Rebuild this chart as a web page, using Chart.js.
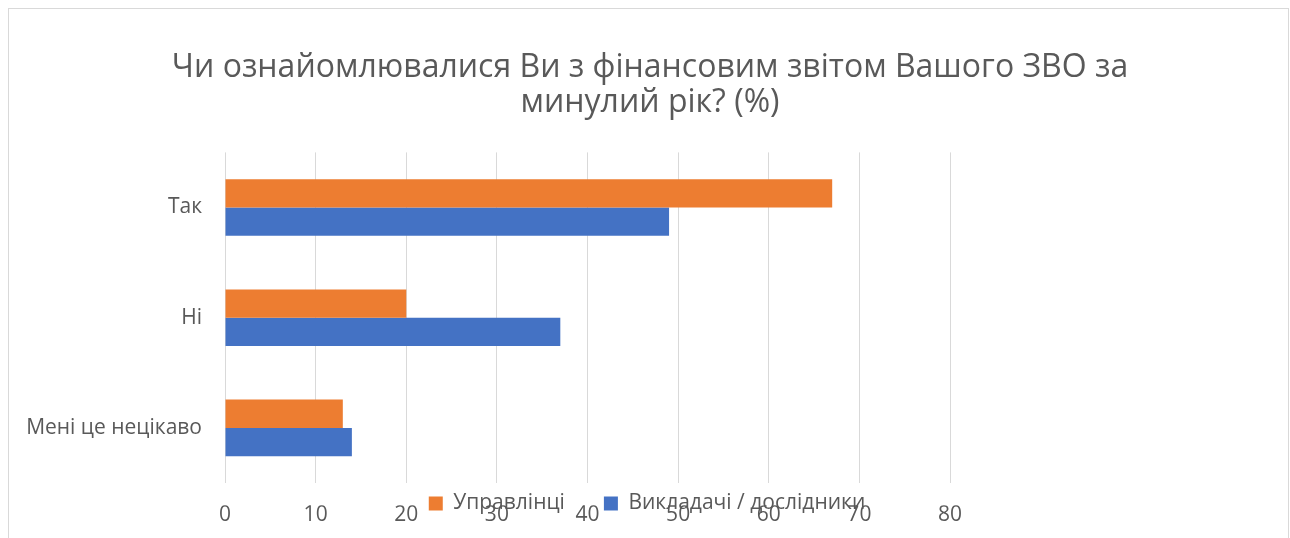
<!DOCTYPE html>
<html>
<head>
<meta charset="utf-8">
<script src="https://cdn.jsdelivr.net/npm/chart.js@4"></script>
<style>
  html, body { margin: 0; padding: 0; background: #ffffff; }
  #wrap { position: relative; width: 1290px; height: 538px; overflow: hidden; }
  #frame { position: absolute; left: 8px; top: 8px; width: 1281px; height: 560px; border: 1px solid #d9d9d9; box-sizing: border-box; }
  #c { position: absolute; left: 0; top: 0; }
</style>
</head>
<body>
<div id="wrap">
  <div id="frame"></div>
  <canvas id="c" width="1290" height="538"></canvas>
</div>
<script>
const titleLines = ['Чи ознайомлювалися Ви з фінансовим звітом Вашого ЗВО за', 'минулий рік? (%)'];
const categories = ['Так', 'Ні', 'Мені це нецікаво'];
const seriesNames = ['Управлінці', 'Викладачі / дослідники'];
const managersValues = [67, 20, 13];
const teachersValues = [49, 37, 14];
const xTicksMin = 0;
const xTicksMax = 80;
const xTicksStep = 10;

const FONT = '"Open Sans", "Noto Sans", sans-serif';
const TEXT = '#595959';

// Excel draws this legend overlapping the axis labels; move the legend box up after layout.
const legendShift = {
  id: 'legendShift',
  afterLayout(chart) {
    const lg = chart.legend;
    if (!lg) return;
    lg.top -= 29;
    lg.height = 75;
    lg.bottom = lg.top + lg.height;
    lg.left -= 3; lg.right -= 3;
  }
};

new Chart(document.getElementById('c'), {
  type: 'bar',
  data: {
    labels: categories,
    datasets: [
      { label: seriesNames[0], data: managersValues, backgroundColor: '#ED7D31', borderWidth: 0 },
      { label: seriesNames[1], data: teachersValues, backgroundColor: '#4472C4', borderWidth: 0 }
    ]
  },
  plugins: [legendShift],
  options: {
    indexAxis: 'y',
    responsive: false,
    animation: false,
    categoryPercentage: 0.514,
    barPercentage: 1.0,
    layout: { padding: { left: 10, right: 0, top: 0, bottom: 14 } },
    plugins: {
      title: {
        display: true,
        text: titleLines,
        color: TEXT,
        font: { family: FONT, size: 32, weight: 'normal', lineHeight: 1.1 },
        padding: { top: 50, bottom: 32 }
      },
      legend: {
        display: true,
        position: 'bottom',
        maxHeight: 41,
        labels: {
          color: TEXT,
          font: { family: FONT, size: 21 },
          boxWidth: 14,
          boxHeight: 14,
          padding: 39
        }
      },
      tooltip: { enabled: false }
    },
    scales: {
      x: {
        type: 'linear',
        position: 'bottom',
        weight: 2000,
        min: xTicksMin,
        max: xTicksMax,
        ticks: { stepSize: xTicksStep, color: TEXT, font: { family: FONT, size: 21 }, padding: -22 },
        grid: { color: '#d9d9d9', lineWidth: 1, drawTicks: false },
        border: { display: false }
      },
      y: {
        position: 'left',
        ticks: { color: TEXT, font: { family: FONT, size: 21 }, padding: 23 },
        grid: { display: false, drawTicks: false },
        border: { display: false },
        afterFit: function (s) { s.width = 215; }
      },
      y2: {
        type: 'linear',
        position: 'right',
        display: true,
        ticks: { display: false },
        grid: { display: false, drawTicks: false },
        border: { display: false },
        afterFit: function (s) { s.width = 340; }
      }
    }
  }
});
</script>
</body>
</html>
